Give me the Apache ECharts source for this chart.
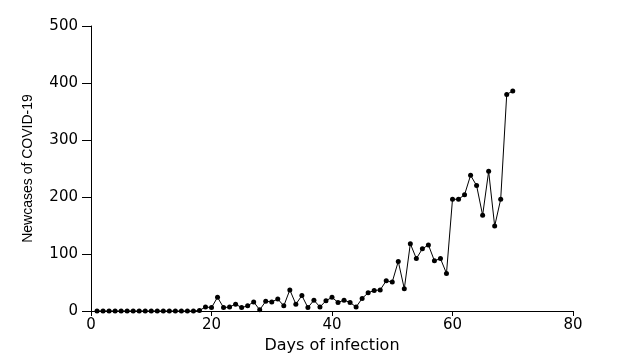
<!DOCTYPE html>
<html>
<head>
<meta charset="utf-8">
<script src="https://cdn.jsdelivr.net/npm/echarts@6/dist/echarts.min.js"></script>
<style>html,body{margin:0;padding:0;background:#fff}#c{width:622px;height:363px}</style>
</head>
<body>
<div id="c"></div>
<script>
const days = [];
for (let d = 1; d <= 70; d++) days.push(d);
const newCases = [
  0,0,0,0,0,0,0,0,0,0,
  0,0,0,0,0,0,0,1,7,6,
  24,6,7,12,6,9,16,2,17,16,
  21,9,37,12,27,6,19,7,18,24,
  15,19,15,7,22,32,36,37,53,51,
  87,39,118,92,109,116,88,92,66,196,
  196,204,238,220,168,245,149,196,380,386
];
const xTicks = [0, 20, 40, 60, 80];
const yTicks = [0, 100, 200, 300, 400, 500];

const chart = echarts.init(document.getElementById('c'), null, {renderer: 'canvas'});
const wide = 'DejaVu Sans, Verdana, sans-serif';
const narrow = 'Liberation Sans, Arial, sans-serif';
chart.setOption({
  animation: false,
  backgroundColor: '#fff',
  grid: {left: 91, right: 49, top: 26, bottom: 52, containLabel: false},
  xAxis: {
    type: 'value', min: xTicks[0], max: xTicks[xTicks.length - 1], interval: 20,
    name: 'Days of infection', nameLocation: 'middle', nameGap: 25,
    nameTextStyle: {fontFamily: wide, fontSize: 16, color: '#000'},
    axisLine: {lineStyle: {color: '#000', width: 1}},
    axisTick: {show: true, length: 5, lineStyle: {color: '#000'}},
    axisLabel: {fontFamily: wide, fontSize: 15, color: '#000', margin: 7},
    splitLine: {show: false}
  },
  yAxis: {
    type: 'value', min: yTicks[0], max: yTicks[yTicks.length - 1], interval: 100,
    name: 'Newcases of COVID-19', nameLocation: 'middle', nameGap: 56,
    nameTextStyle: {fontFamily: narrow, fontSize: 14, color: '#000'},
    axisLine: {show: true, lineStyle: {color: '#000', width: 1}},
    axisTick: {show: true, length: 9, lineStyle: {color: '#000'}},
    axisLabel: {fontFamily: wide, fontSize: 15, color: '#000', margin: 13},
    splitLine: {show: false}
  },
  series: [{
    type: 'line',
    data: days.map((d, i) => [d, newCases[i]]),
    symbol: 'circle', symbolSize: 5,
    itemStyle: {color: '#000'},
    lineStyle: {color: '#000', width: 1}
  }]
});
</script>
</body>
</html>
